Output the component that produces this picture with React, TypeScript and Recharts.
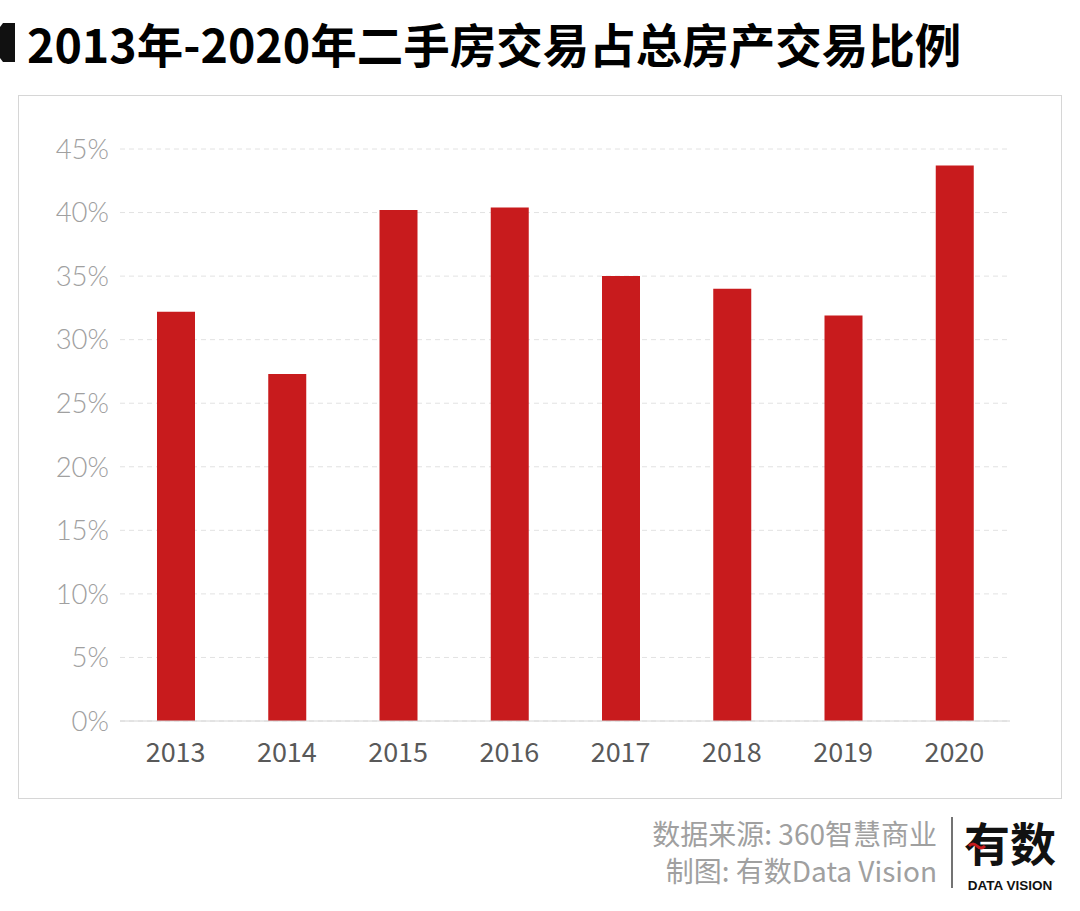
import { Bar, BarChart, CartesianGrid, XAxis, YAxis } from "recharts"

const years = ["2013", "2014", "2015", "2016", "2017", "2018", "2019", "2020"]
const shares = [32.2, 27.3, 40.2, 40.4, 35.0, 34.0, 31.9, 43.7]
const yTicks = [0, 5, 10, 15, 20, 25, 30, 35, 40, 45]

const title = "2013年-2020年二手房交易占总房产交易比例"
const sourceLine = "数据来源: 360智慧商业"
const makerLine = "制图: 有数Data Vision"

const data = years.map((year, i) => ({ year, share: shares[i] }))

const CJK = '"Noto Sans CJK SC", "Noto Sans", sans-serif'

export default function App() {
    return (
        <div style={{ position: "absolute", left: 0, top: 0, width: 1080, height: 911, background: "#fff" }}>
            <svg width={1080} height={911} style={{ position: "absolute", left: 0, top: 0 }}>
                {/* little black block before the title */}
                <polygon points="0,27 3,23 15,23 15,62 3,62 0,58" fill="#111" />
                <text x={27} y={63} fontSize={46.5} fontWeight={700} fontFamily={CJK} fill="#000">
                    {title}
                </text>

                <text x={937} y={845} fontSize={28} fontFamily={CJK} fill="#a0a0a0" textAnchor="end">
                    {sourceLine}
                </text>
                <text x={937} y={882} fontSize={28} fontFamily={CJK} fill="#a0a0a0" textAnchor="end">
                    {makerLine}
                </text>

                <line x1={952} y1={817} x2={952} y2={888} stroke="#444" strokeWidth={1.5} />
                <text x={1010} y={861} fontSize={46} fontWeight={700} fontFamily={CJK} fill="#111" textAnchor="middle">
                    有数
                </text>
                <path d="M969 846 q4 -4 8 0 t8 0" stroke="#c81b1d" strokeWidth={3} fill="none" />
                <text x={1010} y={890} fontSize={13.5} fontWeight={700} fontFamily='"Liberation Sans", Arial, sans-serif' fill="#111" textAnchor="middle">
                    DATA VISION
                </text>
            </svg>

            <div
                style={{
                    position: "absolute",
                    left: 18,
                    top: 95,
                    width: 1044,
                    height: 704,
                    border: "1px solid #d6d6d6",
                    boxSizing: "border-box",
                }}
            />
            <div style={{ position: "absolute", left: 18, top: 95 }}>
                <BarChart
                    width={1044}
                    height={704}
                    data={data}
                    margin={{ top: 54, right: 52, left: 0, bottom: 18 }}
                >
                    <CartesianGrid vertical={false} stroke="#e2e2e2" strokeDasharray="5 4" />
                    <XAxis
                        dataKey="year"
                        height={60}
                        tickSize={0}
                        tickMargin={22}
                        axisLine={{ stroke: "#d4d4d4" }}
                        tick={{ fontSize: 27, fill: "#595959", fontFamily: CJK }}
                    />
                    <YAxis
                        width={102}
                        domain={[0, 45]}
                        ticks={yTicks}
                        tickFormatter={(v) => `${v}%`}
                        tickSize={0}
                        tickMargin={11}
                        axisLine={false}
                        tick={{ fontSize: 27.5, fill: "#a0a0a0", fontFamily: "Lato", fontWeight: 300 }}
                    />
                    <Bar dataKey="share" fill="#c81b1d" barSize={38} isAnimationActive={false} />
                </BarChart>
            </div>
        </div>
    )
}
